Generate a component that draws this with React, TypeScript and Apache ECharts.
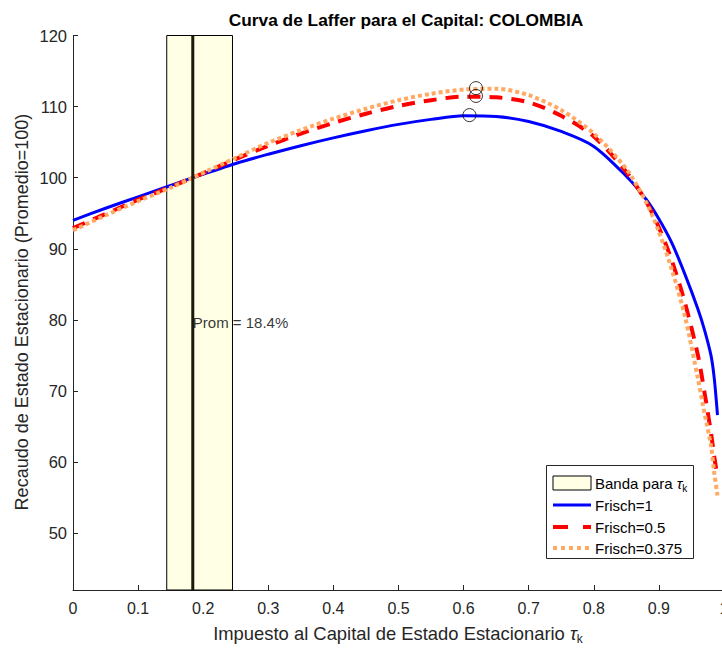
import React, { useEffect, useRef } from "react";
import * as echarts from "echarts";

const tau = [0, 0.05, 0.1, 0.15, 0.184, 0.25, 0.3, 0.35, 0.4, 0.45, 0.5, 0.55, 0.6, 0.65, 0.7, 0.75, 0.8, 0.85, 0.88, 0.9, 0.92, 0.94, 0.96, 0.97, 0.98, 0.985, 0.99];
const frisch1 = [94.0, 95.7, 97.3, 98.9, 100.0, 102.0, 103.3, 104.5, 105.6, 106.6, 107.5, 108.2, 108.7, 108.6, 107.9, 106.5, 104.4, 100.2, 97.0, 94.2, 90.8, 86.4, 81.5, 78.6, 75.0, 71.8, 66.6];
const frisch05 = [92.9, 94.9, 96.9, 98.7, 100.0, 102.6, 104.5, 106.2, 107.7, 109.0, 110.1, 110.9, 111.4, 111.3, 110.6, 108.7, 105.8, 100.8, 96.7, 93.0, 88.3, 82.4, 75.0, 69.8, 64.1, 60.8, 57.8];
const frisch0375 = [92.6, 94.7, 96.7, 98.6, 100.0, 102.8, 104.9, 106.7, 108.3, 109.7, 110.9, 111.8, 112.4, 112.5, 111.6, 109.5, 106.2, 101.2, 96.6, 92.4, 87.0, 80.5, 71.7, 66.9, 62.3, 58.5, 55.3];
const peakTau = [0.609, 0.619, 0.619];
const peakVal = [108.8, 111.5, 112.6];
const bandLow = 0.144;
const bandHigh = 0.245;
const avgTau = 0.184;
const avgLabelY = 79.6;
const yMin = 42;
const yMax = 120;
const yTicks = [50, 60, 70, 80, 90, 100, 110, 120];
const seriesNames = ["Frisch=1", "Frisch=0.5", "Frisch=0.375"];

const FONT = "'Liberation Sans', Arial, Helvetica, sans-serif";
const AX = "#262626";

export default function App() {
  const ref = useRef<HTMLDivElement>(null);
  useEffect(() => {
    if (!ref.current) return;
    const chart = echarts.init(ref.current, undefined, { renderer: "svg" });
    const pair = (ys: number[]) => tau.map((t, i) => [t, ys[i]]);
    const lx0 = 553, lx1 = 591, ltx = 595;
    const rows = [483, 505, 527, 548];
    const option: any = {
      animation: false,
      backgroundColor: "#ffffff",
      grid: { left: 73, top: 35.5, width: 651, height: 554.5, containLabel: false, outerBoundsMode: "none" },
      xAxis: {
        type: "value",
        min: 0,
        max: 1,
        interval: 0.1,
        axisLine: { lineStyle: { color: AX, width: 1 } },
        axisTick: { inside: true, length: 5, lineStyle: { color: AX } },
        splitLine: { show: false },
        axisLabel: {
          color: AX,
          fontFamily: FONT,
          fontSize: 16,
          margin: 10,
          hideOverlap: false,
          formatter: (v: number) => (v === 0 ? "0" : String(+v.toFixed(1))),
        },
      },
      yAxis: {
        type: "value",
        min: yMin,
        max: yMax,
        axisLine: { show: true, lineStyle: { color: AX, width: 1 } },
        axisTick: { show: true, inside: true, length: 5, lineStyle: { color: AX }, customValues: yTicks },
        splitLine: { show: false },
        axisLabel: { color: AX, fontFamily: FONT, fontSize: 16.5, margin: 6, customValues: yTicks },
      },
      series: [
        {
          type: "line",
          data: [],
          silent: true,
          z: 1,
          markArea: {
            silent: true,
            itemStyle: { color: "#FFFFE6", borderColor: "#000000", borderWidth: 1 },
            data: [[{ xAxis: bandLow, yAxis: yMin }, { xAxis: bandHigh, yAxis: yMax }]],
          },
        },
        {
          name: seriesNames[0],
          type: "line",
          data: pair(frisch1),
          showSymbol: false,
          smooth: 0.3,
          z: 3,
          lineStyle: { color: "#0000FF", width: 3 },
        },
        {
          name: seriesNames[1],
          type: "line",
          data: pair(frisch05),
          showSymbol: false,
          smooth: 0.3,
          z: 4,
          lineStyle: { color: "#FF0000", width: 4, type: [13, 9] },
        },
        {
          name: seriesNames[2],
          type: "line",
          data: pair(frisch0375),
          showSymbol: false,
          smooth: 0.3,
          z: 5,
          lineStyle: { color: "#FFA963", width: 4, type: [4, 3] },
        },
        {
          type: "line",
          data: [[avgTau, yMin], [avgTau, yMax]],
          showSymbol: false,
          z: 6,
          lineStyle: { color: "#1a1a0a", width: 3 },
        },
        {
          type: "scatter",
          data: peakTau.map((t, i) => [t, peakVal[i]]),
          symbol: "circle",
          symbolSize: 13,
          z: 7,
          itemStyle: { color: "rgba(0,0,0,0)", borderColor: "#000000", borderWidth: 1 },
        },
        {
          type: "scatter",
          data: [[avgTau, avgLabelY]],
          symbolSize: 0,
          z: 8,
          label: {
            show: true,
            position: "right",
            distance: 0,
            formatter: "Prom = 18.4%",
            color: "#000000",
            fontFamily: FONT,
            fontSize: 15,
          },
        },
      ],
      graphic: [
        {
          type: "text",
          x: 406,
          y: 20,
          style: {
            text: "Curva de Laffer para el Capital: COLOMBIA",
            fontFamily: FONT,
            fontSize: 17.3,
            fontWeight: "bold",
            fill: "#000000",
            align: "center",
            verticalAlign: "middle",
          },
        },
        {
          type: "text",
          x: 398,
          y: 633,
          style: {
            text: "Impuesto al Capital de Estado Estacionario {t|τ}{k|k}",
            fontFamily: FONT,
            fontSize: 18.4,
            fill: AX,
            align: "center",
            verticalAlign: "middle",
            rich: {
              t: { fontFamily: FONT, fontSize: 18.4, fontStyle: "italic", fill: AX },
              k: { fontFamily: FONT, fontSize: 12, fill: AX, padding: [11, 0, 0, 0] },
            },
          },
        },
        {
          type: "text",
          x: 22,
          y: 312,
          rotation: Math.PI / 2,
          style: {
            text: "Recaudo de Estado Estacionario (Promedio=100)",
            fontFamily: FONT,
            fontSize: 18,
            fill: AX,
            align: "center",
            verticalAlign: "middle",
          },
        },
        {
          type: "group",
          z: 100,
          children: [
            { type: "rect", shape: { x: 546.5, y: 465.5, width: 147, height: 93 }, style: { fill: "#ffffff", stroke: "#262626", lineWidth: 1 } },
            { type: "rect", shape: { x: lx0, y: rows[0] - 7, width: lx1 - lx0, height: 14 }, style: { fill: "#FFFFE6", stroke: "#000000", lineWidth: 1 } },
            { type: "line", shape: { x1: lx0, y1: rows[1], x2: lx1, y2: rows[1] }, style: { stroke: "#0000FF", lineWidth: 3 } },
            { type: "line", shape: { x1: lx0, y1: rows[2], x2: lx1, y2: rows[2] }, style: { stroke: "#FF0000", lineWidth: 4, lineDash: [15, 15] } },
            { type: "line", shape: { x1: lx0, y1: rows[3], x2: lx1, y2: rows[3] }, style: { stroke: "#FFA963", lineWidth: 4, lineDash: [4, 4] } },
            {
              type: "text",
              x: ltx,
              y: rows[0],
              style: {
                text: "Banda para {t|τ}{k|k}",
                fontFamily: FONT,
                fontSize: 15,
                fill: "#000000",
                verticalAlign: "middle",
                rich: {
                  t: { fontFamily: FONT, fontSize: 15, fontStyle: "italic", fill: "#000000" },
                  k: { fontFamily: FONT, fontSize: 10, fill: "#000000", padding: [10, 0, 0, 0] },
                },
              },
            },
            ...seriesNames.map((n, i) => ({
              type: "text",
              x: ltx,
              y: rows[i + 1],
              style: { text: n, fontFamily: FONT, fontSize: 15, fill: "#000000", verticalAlign: "middle" },
            })),
          ],
        },
      ],
    };
    chart.setOption(option);
    return () => chart.dispose();
  }, []);
  return <div ref={ref} style={{ position: "fixed", left: 0, top: 0, width: 722, height: 649 }} />;
}
